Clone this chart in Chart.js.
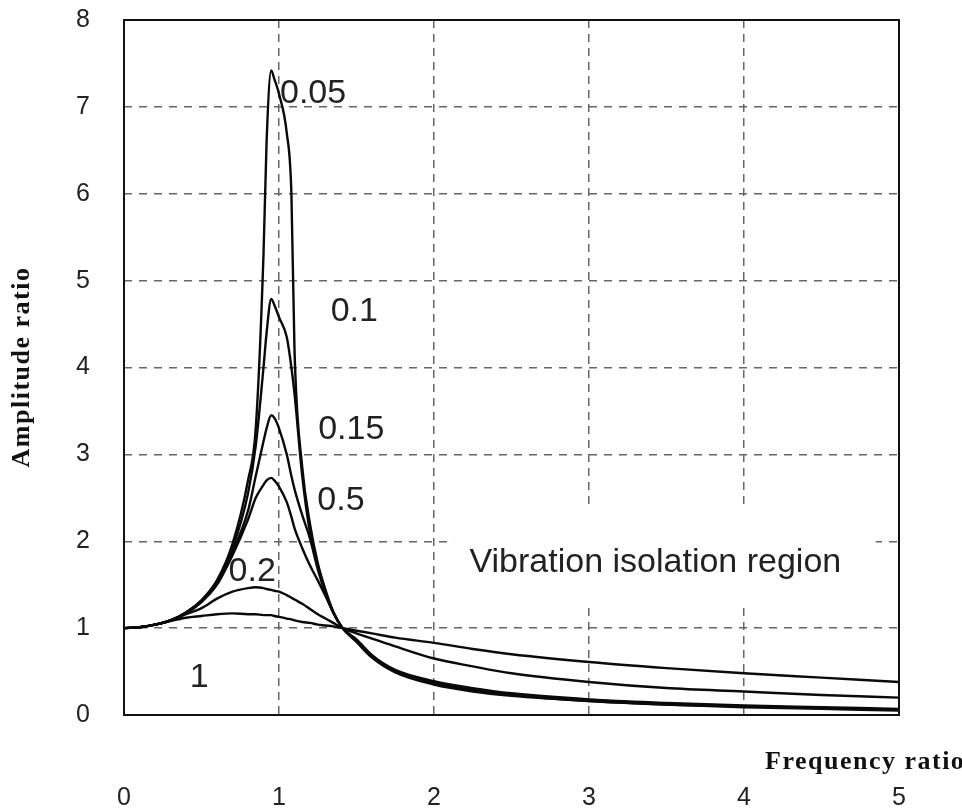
<!DOCTYPE html>
<html>
<head>
<meta charset="utf-8">
<script src="https://cdn.jsdelivr.net/npm/chart.js@4.4.1/dist/chart.umd.min.js"></script>
<style>
  body { margin: 0; background: #fff; }
</style>
</head>
<body>
<canvas id="myChart" width="962" height="810"></canvas>
<script>
// frequency ratio (x) shared by every curve
var freqRatio = [0, 0.1, 0.2, 0.3, 0.4, 0.5, 0.6, 0.7, 0.8, 0.85, 0.9, 0.92, 0.95, 0.97, 1.0, 1.05, 1.08, 1.1, 1.15, 1.2, 1.25, 1.3, 1.35, 1.41, 1.5, 1.6, 1.75, 2.0, 2.25, 2.5, 3.0, 3.5, 4.0, 4.5, 5.0];

// amplitude ratio, one array per damping ratio
var amp005 = [1.0, 1.01, 1.04, 1.09, 1.18, 1.32, 1.55, 1.97, 2.7, 3.3, 5.3, 6.6, 7.42, 7.32, 7.15, 6.7, 6.0, 4.2, 2.85, 2.2, 1.75, 1.44, 1.19, 1.0, 0.84, 0.66, 0.49, 0.35, 0.27, 0.22, 0.16, 0.12, 0.09, 0.07, 0.05];
var amp01  = [1.0, 1.01, 1.04, 1.09, 1.18, 1.32, 1.54, 1.92, 2.55, 3.1, 4.0, 4.4, 4.79, 4.72, 4.58, 4.35, 4.0, 3.7, 2.75, 2.1, 1.72, 1.42, 1.18, 1.0, 0.85, 0.67, 0.5, 0.36, 0.28, 0.23, 0.16, 0.12, 0.1, 0.08, 0.06];
var amp015 = [1.0, 1.01, 1.04, 1.09, 1.18, 1.31, 1.53, 1.88, 2.35, 2.75, 3.15, 3.3, 3.45, 3.42, 3.3, 3.0, 2.75, 2.6, 2.3, 2.03, 1.68, 1.4, 1.18, 1.0, 0.86, 0.68, 0.51, 0.37, 0.29, 0.24, 0.17, 0.13, 0.1, 0.08, 0.06];
var amp02  = [1.0, 1.01, 1.04, 1.09, 1.17, 1.3, 1.5, 1.84, 2.25, 2.5, 2.65, 2.7, 2.73, 2.7, 2.63, 2.45, 2.28, 2.15, 1.92, 1.72, 1.55, 1.37, 1.18, 1.0, 0.87, 0.69, 0.52, 0.39, 0.31, 0.25, 0.18, 0.14, 0.11, 0.09, 0.07];
var amp05  = [1.0, 1.01, 1.04, 1.09, 1.16, 1.23, 1.34, 1.42, 1.46, 1.47, 1.46, 1.45, 1.44, 1.43, 1.42, 1.38, 1.35, 1.33, 1.28, 1.22, 1.16, 1.11, 1.06, 1.0, 0.94, 0.88, 0.79, 0.65, 0.56, 0.48, 0.38, 0.31, 0.27, 0.23, 0.2];
var amp1   = [1.0, 1.01, 1.04, 1.08, 1.12, 1.14, 1.16, 1.17, 1.16, 1.16, 1.15, 1.15, 1.15, 1.14, 1.13, 1.11, 1.1, 1.09, 1.07, 1.06, 1.04, 1.03, 1.02, 1.0, 0.97, 0.94, 0.89, 0.83, 0.76, 0.7, 0.61, 0.54, 0.48, 0.43, 0.38];

var dampingRatios = ['0.05', '0.1', '0.15', '0.2', '0.5', '1'];
var xTicks = [0, 1, 2, 3, 4, 5];
var yTicks = [0, 1, 2, 3, 4, 5, 6, 7, 8];

var seriesList = [amp005, amp01, amp015, amp02, amp05, amp1];

// labels written on the plot, placed in data units
var notes = [
    { text: '0.05', x: 1.22, y: 7.15 },
    { text: '0.1', x: 1.486, y: 4.64 },
    { text: '0.15', x: 1.466, y: 3.28 },
    { text: '0.5', x: 1.40, y: 2.47 },
    { text: '0.2', x: 0.827, y: 1.65 },
    { text: '1', x: 0.485, y: 0.43 }
];

var labelPlugin = {
    id: 'labelPlugin',
    beforeDatasetsDraw: function(chart) {
        var ctx = chart.ctx, xs = chart.scales.x, ys = chart.scales.y;
        // white patch behind the region text hides the grid there
        ctx.save();
        ctx.fillStyle = '#fff';
        var l = xs.getPixelForValue(2.13), r = xs.getPixelForValue(4.85);
        var t = ys.getPixelForValue(2.38), b = ys.getPixelForValue(1.27);
        ctx.fillRect(l, t, r - l, b - t);
        ctx.restore();
    },
    afterDatasetsDraw: function(chart) {
        var ctx = chart.ctx, xs = chart.scales.x, ys = chart.scales.y;
        var area = chart.chartArea;
        ctx.save();
        ctx.fillStyle = '#222';
        ctx.font = '34px "Liberation Sans", Arial, sans-serif';
        ctx.textAlign = 'center';
        ctx.textBaseline = 'middle';
        notes.forEach(function(n) {
            ctx.fillText(n.text, xs.getPixelForValue(n.x), ys.getPixelForValue(n.y));
        });
        ctx.textAlign = 'left';
        ctx.fillText('Vibration isolation region', xs.getPixelForValue(2.229), ys.getPixelForValue(1.75));

        // plot frame
        ctx.strokeStyle = '#111';
        ctx.lineWidth = 2;
        ctx.strokeRect(area.left, area.top, area.right - area.left, area.bottom - area.top);

        // axis titles
        ctx.fillStyle = '#111';
        ctx.font = 'bold 26px "Liberation Serif", "Times New Roman", serif';
        ctx.letterSpacing = '1.5px';
        ctx.textBaseline = 'alphabetic';
        ctx.textAlign = 'left';
        ctx.fillText('Frequency ratio', 765, 769);
        ctx.translate(22, 367);
        ctx.rotate(-Math.PI / 2);
        ctx.textAlign = 'center';
        ctx.textBaseline = 'middle';
        ctx.fillText('Amplitude ratio', 0, 0);
        ctx.restore();
    }
};

var ctx1 = document.getElementById('myChart').getContext('2d');
var myChart = new Chart(ctx1, {
    type: 'line',
    data: {
        datasets: seriesList.map(function(vals, i) {
            return {
                label: dampingRatios[i],
                data: freqRatio.map(function(x, j) { return { x: x, y: vals[j] }; }),
                borderColor: '#0a0a0a',
                borderWidth: 2.4,
                pointRadius: 0,
                cubicInterpolationMode: 'monotone',
                fill: false
            };
        })
    },
    options: {
        responsive: false,
        animation: false,
        layout: { padding: { left: 0, top: 20, right: 63, bottom: 0 } },
        plugins: {
            legend: { display: false },
            tooltip: { enabled: false }
        },
        scales: {
            x: {
                type: 'linear',
                min: xTicks[0],
                max: xTicks[xTicks.length - 1],
                afterBuildTicks: function(scale) {
                    scale.ticks = xTicks.map(function(v) { return { value: v }; });
                },
                afterFit: function(scale) {
                    scale.height = 95;
                    scale.paddingLeft = 0;
                    scale.paddingRight = 0;
                },
                ticks: {
                    padding: 68,
                    color: '#222',
                    font: { family: '"Liberation Sans", Arial, sans-serif', size: 25 }
                },
                grid: { color: '#666', lineWidth: 1.5, drawTicks: false },
                border: { display: false, dash: [8, 6] }
            },
            y: {
                type: 'linear',
                min: yTicks[0],
                max: yTicks[yTicks.length - 1],
                afterBuildTicks: function(scale) {
                    scale.ticks = yTicks.map(function(v) { return { value: v }; });
                },
                afterFit: function(scale) {
                    scale.width = 124;
                    scale.paddingTop = 0;
                    scale.paddingBottom = 0;
                },
                ticks: {
                    padding: 34,
                    color: '#222',
                    font: { family: '"Liberation Sans", Arial, sans-serif', size: 25 }
                },
                grid: { color: '#666', lineWidth: 1.5, drawTicks: false },
                border: { display: false, dash: [8, 7] }
            }
        }
    },
    plugins: [labelPlugin]
});
</script>
</body>
</html>
